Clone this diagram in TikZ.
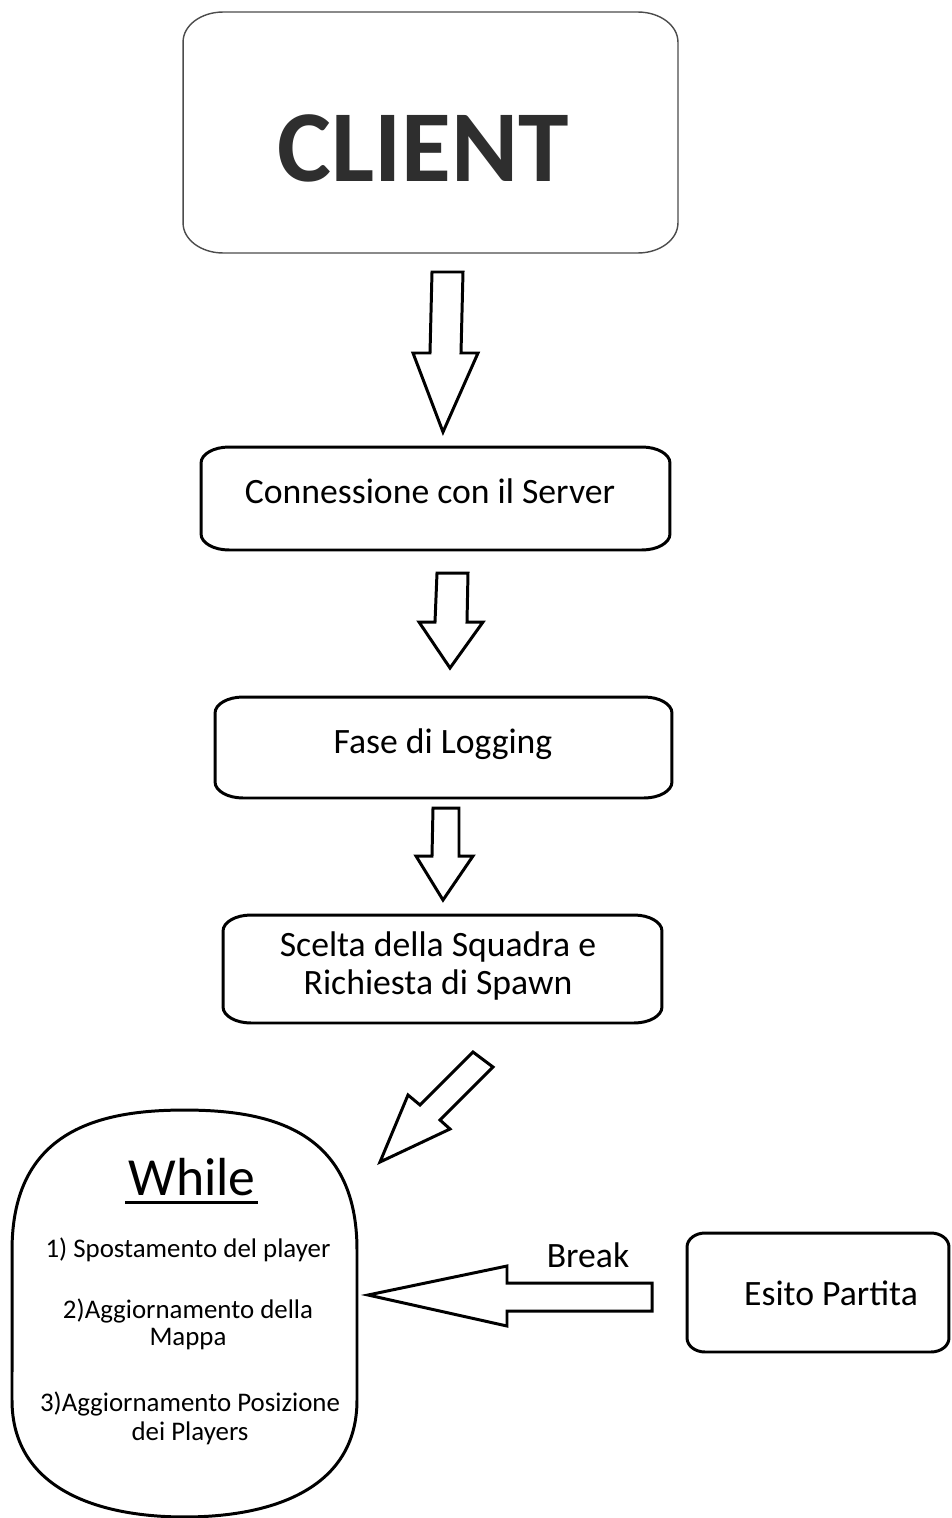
\documentclass[tikz,border=0pt]{standalone}
\usepackage{fontspec}
\setmainfont{Carlito}
\usetikzlibrary{calc}
% outline of a box with elliptic corners: node name, rx, ry (in px units)
\newcommand\softbox[4][boxline]{%
\draw[#1]
 ($(#2.north west)+(0,#4)$)
 -- ($(#2.south west)+(0,-#4)$)
 .. controls ($(#2.south west)+(0,-0.448*#4)$) and ($(#2.south west)+(0.448*#3,0)$) .. ($(#2.south west)+(#3,0)$)
 -- ($(#2.south east)+(-#3,0)$)
 .. controls ($(#2.south east)+(-0.448*#3,0)$) and ($(#2.south east)+(0,-0.448*#4)$) .. ($(#2.south east)+(0,-#4)$)
 -- ($(#2.north east)+(0,#4)$)
 .. controls ($(#2.north east)+(0,0.448*#4)$) and ($(#2.north east)+(-0.448*#3,0)$) .. ($(#2.north east)+(-#3,0)$)
 -- ($(#2.north west)+(#3,0)$)
 .. controls ($(#2.north west)+(0.448*#3,0)$) and ($(#2.north west)+(0,0.448*#4)$) .. cycle;}
\begin{document}
\begin{tikzpicture}[x=0.02cm,y=-0.02cm,
  boxline/.style={draw=black,line width=1.7pt,line join=round},
  thinline/.style={draw=black!70,line width=0.8pt,line join=round},
  blockarrow/.style={draw=black,line width=1.7pt,fill=white,line join=miter},
  frame/.style={draw=none,inner sep=0pt,outer sep=0pt,rectangle},
  lbl/.style={font=\fontsize{20.3}{21.5}\selectfont,anchor=base,inner sep=0pt,align=center},
  item/.style={font=\fontsize{15.3}{15}\selectfont,anchor=base,inner sep=0pt,align=center},
]
\useasboundingbox (0,0) rectangle (951,1518);

% frames of the boxes
\node[frame,minimum width=9.9cm,minimum height=4.82cm] (client) at (430.5,132.5) {};
\node[frame,minimum width=9.38cm,minimum height=2.06cm] (conn) at (435.5,498.5) {};
\node[frame,minimum width=9.14cm,minimum height=2.02cm] (log) at (443.5,747.5) {};
\node[frame,minimum width=8.78cm,minimum height=2.16cm] (team) at (442.5,969) {};
\node[frame,minimum width=5.24cm,minimum height=2.38cm] (esito) at (818,1292.5) {};
\node[frame,minimum width=6.9cm,minimum height=8.14cm] (loop) at (184.5,1313.5) {};

\softbox[thinline]{client}{40}{30}
\softbox{conn}{28}{16}
\softbox{log}{28}{16}
\softbox{team}{28}{16}
\softbox{esito}{18}{14}

% while loop shape
\draw[boxline] (loop.west |- 0,1250)
  .. controls (12,1130) and (100,1110) .. (loop.north)
  .. controls (270,1110) and (357,1130) .. (357,1250)
  -- (357,1400)
  .. controls (357,1490) and (270,1517) .. (loop.south)
  .. controls (100,1517) and (12,1490) .. (12,1400) -- cycle;

% texts
\node[font=\fontsize{58}{62}\selectfont\bfseries,text=black!82,anchor=base,inner sep=0pt] (clienttxt) at (423,181) {CLIENT};
\node[lbl] (conntxt) at (430,503) {Connessione con il Server};
\node[lbl] (logtxt) at (443,753) {Fase di Logging};
\node[lbl] (teamtxt) at (438,994) {Scelta della Squadra e\\Richiesta di Spawn};
\node[lbl] (esitotxt) at (831,1305) {Esito Partita};
\node[lbl] (breaktxt) at (588,1267) {Break};

\node[font=\fontsize{30.5}{32}\selectfont,anchor=base,inner sep=0pt] (whiletxt) at (192,1195) {While};
\draw[line width=1.7pt] ($(whiletxt.base west)+(-3,7)$) -- ($(whiletxt.base east)+(2,7)$);
\node[item] (it1) at (188,1257) {1) Spostamento del player};
\node[item] (it2) at (188,1345) {2)Aggiornamento della\\Mappa};
\node[item,font=\fontsize{15.3}{16}\selectfont] (it3) at (190,1440) {3)Aggiornamento Posizione\\dei Players};

% block arrows
\draw[blockarrow] (432,272) -- (463,272) -- (461,353) -- (478,353) -- (443,432) -- (413,353) -- (430,353) -- cycle;
\draw[blockarrow] (437,573) -- (468,573) -- (467,622) -- (483,622) -- (450,668) -- (419,622) -- (435,622) -- cycle;
\draw[blockarrow] (433,808) -- (459,808) -- (459,856) -- (473,856) -- (443,900) -- (416,856) -- (432,856) -- cycle;
\draw[blockarrow] (473,1052) -- (493,1067) -- (440,1120) -- (450,1129) -- (380,1162) -- (408,1095) -- (420,1105) -- cycle;
\draw[blockarrow] (652,1283) -- (507,1283) -- (507,1266) -- (368,1295) -- (507,1326) -- (507,1311) -- (652,1311) -- cycle;
\end{tikzpicture}
\end{document}
